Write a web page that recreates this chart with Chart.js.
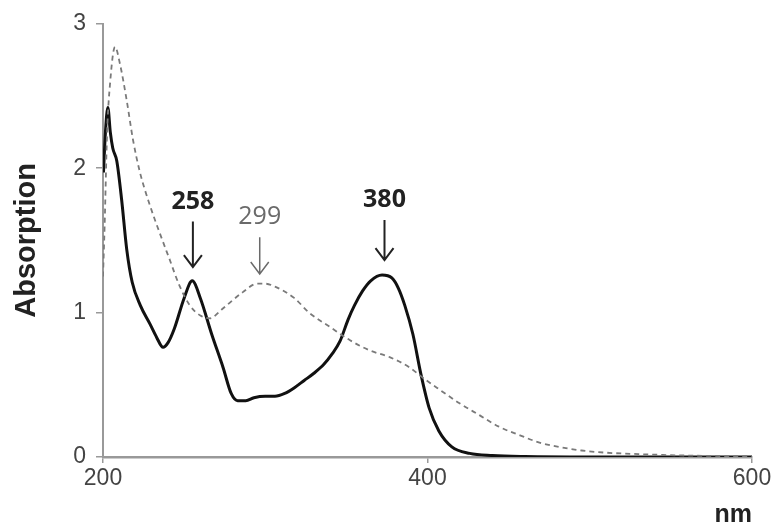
<!DOCTYPE html>
<html>
<head>
<meta charset="utf-8">
<script src="https://cdn.jsdelivr.net/npm/chart.js@4"></script>
<style>
  html, body { margin: 0; padding: 0; background: #fff; }
  #wrap { width: 777px; height: 525px; }
</style>
</head>
<body>
<div id="wrap"><canvas id="myChart" width="777" height="525"></canvas></div>
<script>
// solid curve (nm, absorption)
const solidNm = [200.3, 201.5, 203, 204.5, 206, 208.5, 211.5, 214.6, 218, 223, 229, 233, 237, 240, 244, 250, 255, 260, 267, 274, 279, 283, 288, 293, 300, 306, 312, 318, 324, 330, 336, 341, 346, 351, 355, 360, 365, 372, 378, 382, 386, 391, 396, 401, 407, 415, 426, 440, 460, 500, 600];
const solidAbs = [1.97, 2.25, 2.42, 2.25, 2.14, 2.05, 1.78, 1.44, 1.21, 1.05, 0.92, 0.83, 0.76, 0.79, 0.89, 1.10, 1.22, 1.10, 0.85, 0.62, 0.44, 0.39, 0.39, 0.41, 0.42, 0.42, 0.44, 0.48, 0.53, 0.58, 0.64, 0.71, 0.80, 0.95, 1.05, 1.15, 1.22, 1.26, 1.24, 1.17, 1.05, 0.85, 0.57, 0.34, 0.18, 0.07, 0.025, 0.01, 0.003, 0, 0];

// dashed curve
const dashNm = [200, 201, 202.5, 204.3, 207.4, 210.5, 214.6, 218.6, 222.8, 229, 235, 241, 247, 253.5, 260, 266, 273, 286, 295, 300, 306, 318, 327, 340, 352, 364, 377, 389, 397, 407, 420, 432, 444, 457, 469, 481, 495, 510, 530, 560, 600];
const dashAbs = [1.25, 1.6, 2.24, 2.58, 2.84, 2.72, 2.47, 2.19, 1.97, 1.74, 1.55, 1.37, 1.19, 1.05, 0.98, 0.96, 1.02, 1.14, 1.20, 1.20, 1.18, 1.10, 1.00, 0.90, 0.81, 0.74, 0.69, 0.62, 0.55, 0.47, 0.37, 0.29, 0.21, 0.15, 0.10, 0.07, 0.045, 0.03, 0.02, 0.01, 0.005];

// peak annotations
const peakLabels = ['258', '299', '380'];
const peakNm = [255.4, 296.6, 373.5];
const peakTip = [1.315, 1.267, 1.363];
const peakText = [1.77, 1.66, 1.78];
const peakBold = [true, false, true];

const xTicks = [200, 400, 600];
const yTicks = [0, 1, 2, 3];

const toPts = (xs, ys) => xs.map((x, i) => ({ x: x, y: ys[i] }));

const peakArrows = {
  id: 'peakArrows',
  afterDatasetsDraw(chart) {
    const ctx = chart.ctx;
    const xs = chart.scales.x, ys = chart.scales.y;
    ctx.save();
    peakLabels.forEach((lab, i) => {
      const px = xs.getPixelForValue(peakNm[i]);
      const tip = ys.getPixelForValue(peakTip[i]);
      const ty = ys.getPixelForValue(peakText[i]);
      const col = peakBold[i] ? '#222' : '#6a6a6a';
      ctx.strokeStyle = col;
      ctx.lineWidth = peakBold[i] ? 2 : 1.5;
      ctx.beginPath();
      ctx.moveTo(px, ty + 20);
      ctx.lineTo(px, tip);
      ctx.moveTo(px - 9, tip - 12);
      ctx.lineTo(px, tip);
      ctx.lineTo(px + 9, tip - 12);
      ctx.stroke();
      ctx.fillStyle = col;
      ctx.font = (peakBold[i] ? 'bold ' : '') + '25px "Open Sans"';
      ctx.textAlign = 'center';
      ctx.textBaseline = 'middle';
      ctx.fillText(lab, px, ty);
    });
    ctx.restore();
  }
};

const ctx = document.getElementById('myChart');
new Chart(ctx, {
  type: 'scatter',
  data: {
    datasets: [
      {
        label: 'dashed',
        data: toPts(dashNm, dashAbs),
        showLine: true,
        borderColor: '#7a7a7a',
        borderWidth: 1.8,
        borderDash: [5, 4],
        pointRadius: 0,
        cubicInterpolationMode: 'monotone'
      },
      {
        label: 'solid',
        data: toPts(solidNm, solidAbs),
        showLine: true,
        borderColor: '#111',
        borderWidth: 3,
        pointRadius: 0,
        cubicInterpolationMode: 'monotone'
      }
    ]
  },
  options: {
    responsive: false,
    animation: false,
    layout: { padding: { top: 19, right: 25, left: 0, bottom: 0 } },
    plugins: { legend: { display: false }, tooltip: { enabled: false } },
    scales: {
      x: {
        type: 'linear',
        min: 200, max: 600,
        afterBuildTicks: s => { s.ticks = xTicks.map(v => ({ value: v })); },
        afterFit: s => { s.height = 68; },
        ticks: { color: '#444', font: { family: 'Liberation Sans', size: 23 }, padding: 2, maxRotation: 0 },
        grid: { drawOnChartArea: false, drawTicks: true, tickLength: 6, color: '#999', lineWidth: 1.5 },
        border: { color: '#999', width: 2.5 },
        title: { display: true, text: 'nm', align: 'end', color: '#222', font: { family: 'Liberation Sans', size: 25, weight: 'bold', lineHeight: 0.8 }, padding: 0 }
      },
      y: {
        min: 0, max: 3,
        afterBuildTicks: s => { s.ticks = yTicks.map(v => ({ value: v })); },
        afterFit: s => { s.width = 103; },
        ticks: { color: '#444', font: { family: 'Liberation Sans', size: 23 }, padding: 10 },
        grid: { drawOnChartArea: false, drawTicks: true, tickLength: 7, color: '#999', lineWidth: 1.5 },
        border: { color: '#999', width: 2 },
        title: { display: true, text: 'Absorption', color: '#222', font: { family: 'Liberation Sans', size: 29, weight: 'bold' }, padding: { bottom: 0, top: 10 } }
      }
    }
  },
  plugins: [peakArrows]
});
</script>
</body>
</html>
